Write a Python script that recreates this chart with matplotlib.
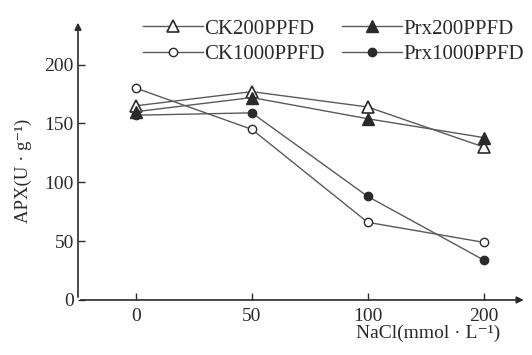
import matplotlib
matplotlib.use("Agg")
import matplotlib.pyplot as plt

categories = ["0", "50", "100", "200"]
ck200 = [165, 177, 164, 130]
prx200 = [160, 172, 154, 138]
ck1000 = [180, 145, 66, 49]
prx1000 = [157, 159, 88, 34]
yticks = [0, 50, 100, 150, 200]

plt.rcParams['font.family'] = ['Liberation Serif', 'DejaVu Serif']
ink = '#2a2a2a'
linec = '#5a5a5a'

fig = plt.figure(figsize=(5.32, 3.55), dpi=100)
ax = fig.add_axes([0.1466, 0.155, 0.843, 0.789])
x = list(range(len(categories)))

lw = 1.0
h1, = ax.plot(x, ck200, color=linec, lw=lw, marker='^', ms=8, mfc='white', mec=ink, mew=1.2)
h2, = ax.plot(x, prx200, color=linec, lw=lw, marker='^', ms=8, mfc=ink, mec=ink)
h3, = ax.plot(x, ck1000, color=linec, lw=lw, marker='o', ms=6, mfc='white', mec=ink, mew=1.0)
h4, = ax.plot(x, prx1000, color=linec, lw=lw, marker='o', ms=6, mfc=ink, mec=ink)

ax.set_xlim(-0.5, 3.37)
ax.set_ylim(0, 238)
for s in ax.spines.values():
    s.set_visible(False)
ax.annotate('', xy=(1.0, 0), xytext=(0, 0), xycoords='axes fraction',
            arrowprops=dict(arrowstyle='-|>', color=ink, lw=1.2, mutation_scale=10))
ax.annotate('', xy=(0, 1.0), xytext=(0, 0), xycoords='axes fraction',
            arrowprops=dict(arrowstyle='-|>', color=ink, lw=1.2, mutation_scale=10))

ax.set_xticks(x)
ax.set_xticklabels(categories)
ax.set_yticks(yticks)
ax.tick_params(direction='in', length=5, width=1, colors=ink, labelsize=14, pad=6)
ax.tick_params(axis='y', pad=3)

ax.set_ylabel('APX(U · g⁻¹)', fontsize=13.5, color=ink)
ax.yaxis.set_label_coords(-0.102, 0.46)
fig.text(0.94, 0.062, 'NaCl(mmol · L⁻¹)', fontsize=14, color=ink, ha='right', va='center')

common = dict(loc='upper left', frameon=False, fontsize=15, handlelength=2.9,
              handletextpad=0.05, labelspacing=0.3, borderpad=0, borderaxespad=0,
              labelcolor=ink)
leg1 = fig.legend([h1, h3], ['CK200PPFD', 'CK1000PPFD'],
                  bbox_to_anchor=(143 / 532, 1 - 19 / 355), **common)
leg2 = fig.legend([h2, h4], ['Prx200PPFD', 'Prx1000PPFD'],
                  bbox_to_anchor=(342 / 532, 1 - 19 / 355), **common)

fig.savefig('out.png', dpi=100, facecolor='white')
